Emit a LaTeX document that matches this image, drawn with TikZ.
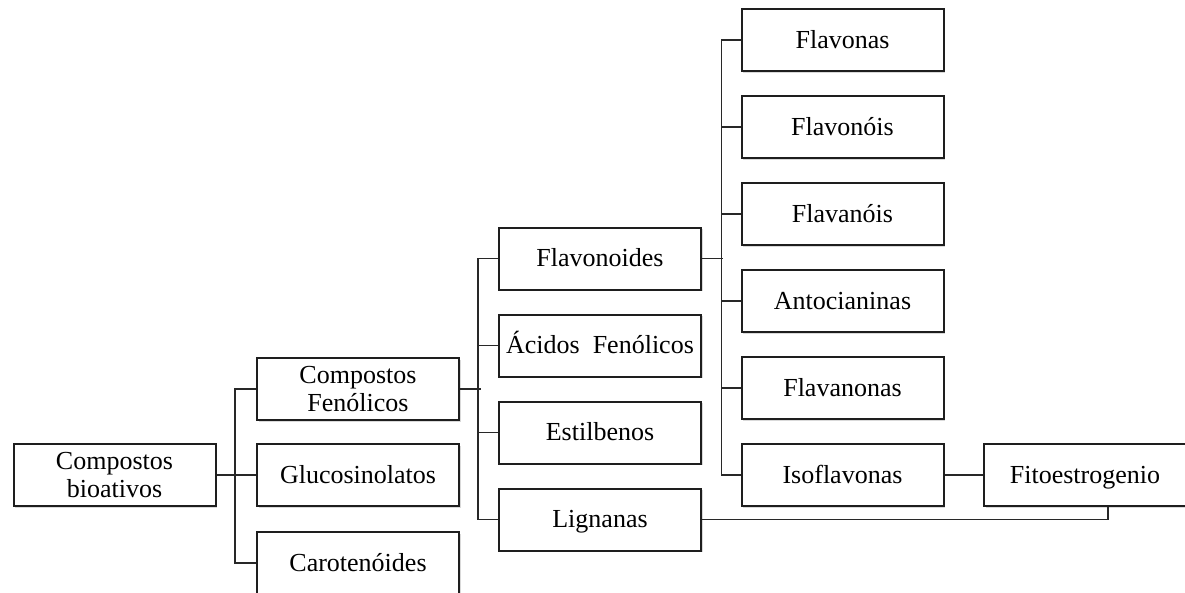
\documentclass[tikz,border=0pt]{standalone}
\usepackage{fontspec}
\setmainfont{Liberation Serif}
\usepackage{tikz}
\definecolor{edge}{RGB}{30,30,30}
\definecolor{wire}{RGB}{40,40,40}
\usetikzlibrary{shadows}
\tikzstyle{box} = [rectangle, minimum width=202pt, minimum height=62pt, inner sep=0pt, text centered, align=center, draw=edge, line width=2pt, fill=white, drop shadow={shadow xshift=1.8pt, shadow yshift=-1.8pt, opacity=0.3}, font=\fontsize{26}{28}\selectfont]
\tikzstyle{single} = [box, text height=19pt, text depth=3pt]
\tikzstyle{line} = [line width=1.9pt, draw=wire]

\begin{document}
\begin{tikzpicture}[x=1pt, y=1pt, node distance=87pt]
        \useasboundingbox (0,0) rectangle (1185,-592);

        \node (node0) [box] at (114.5,-475) {Compostos\\bioativos};
        \node (node1) [box] at (358,-389) {Compostos\\Fenólicos};
        \node (node2) [single, below of=node1, yshift=1pt] {Glucosinolatos};
        \node (node3) [single, below of=node2, yshift=-1pt] {Carotenóides};

        \node (node4) [single] at (600,-258.5) {Flavonoides};
        \node (node5) [single, below of=node4] {Ácidos\ \ Fenólicos};
        \node (node6) [single, below of=node5] {Estilbenos};
        \node (node7) [single, below of=node6] {Lignanas};

        \node (node8) [single] at (842.5,-40) {Flavonas};
        \node (node9) [single, below of=node8] {Flavonóis};
        \node (node10) [single, below of=node9] {Flavanóis};
        \node (node11) [single, below of=node10] {Antocianinas};
        \node (node12) [single, below of=node11] {Flavanonas};
        \node (node13) [single, below of=node12] {Isoflavonas};
        \node (node14) [single, right of=node13, xshift=155.5pt] {Fitoestrogenio};

        \draw [line] (node0) -- (node2);
        \draw [line] (node1.west) -- ++(-21,0) |- (node3.west);
        \draw [line] (node1.east) -- ++(21,0);
        \draw [line] (node4.west) -- ++(-20,0) |- (node7.west);
        \draw [line] (node5.west) -- ++(-20,0);
        \draw [line] (node6.west) -- ++(-20,0);
        \draw [line] (node4.east) -- ++(21,0);
        \draw [line] (node8.west) -- ++(-19,0) |- (node13.west);
        \draw [line] (node9.west) -- ++(-19,0);
        \draw [line] (node10.west) -- ++(-19,0);
        \draw [line] (node11.west) -- ++(-19,0);
        \draw [line] (node12.west) -- ++(-19,0);
        \draw [line] (node13) -- (node14);
        \draw [line] (node7.east) -| ([xshift=23pt]node14.south);
    \end{tikzpicture}
\end{document}
